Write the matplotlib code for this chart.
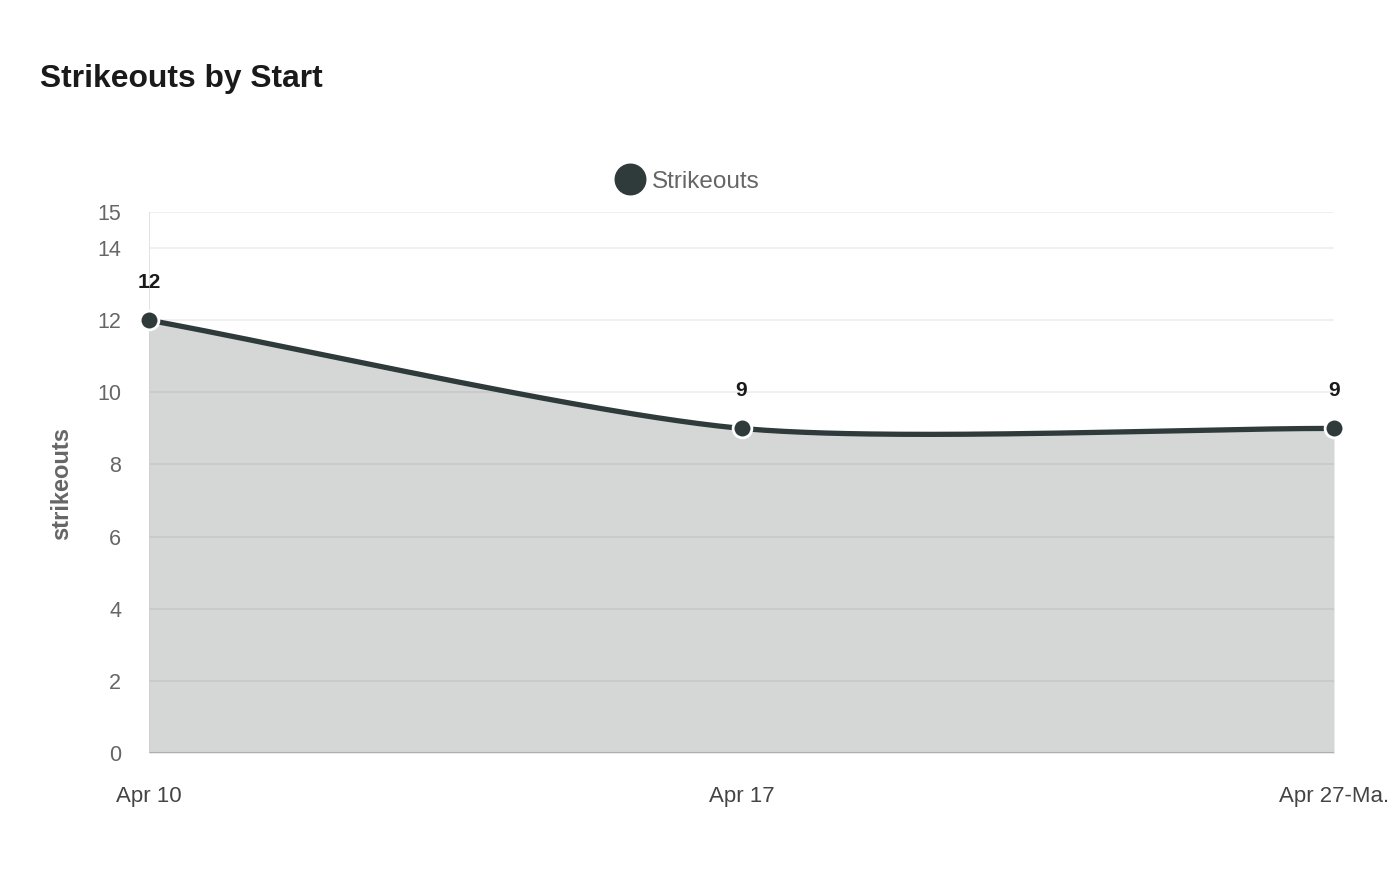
import numpy as np
import matplotlib
matplotlib.use("Agg")
import matplotlib.pyplot as plt
from matplotlib.lines import Line2D

plt.rcParams['font.family'] = ['Liberation Sans', 'DejaVu Sans']

categories = ["Apr 10", "Apr 17", "Apr 27-Ma."]
strikeouts = [12, 9, 9]
y_ticks = [0, 2, 4, 6, 8, 10, 12, 14, 15]
series_name = "Strikeouts"
title = "Strikeouts by Start"
y_label = "strikeouts"

LINE = "#2f3a3b"
W, H = 1400, 880
fig = plt.figure(figsize=(W / 100, H / 100), dpi=100)
ax = fig.add_axes([149 / W, 1 - 753 / H, (1334 - 149) / W, (753 - 212) / H])

x = np.arange(len(categories))
ax.set_xlim(0, len(categories) - 1)
ax.set_ylim(0, 15)

# smooth curve (ECharts-like bezier), computed in display space
fig.canvas.draw()
pts = ax.transData.transform(np.column_stack([x, strikeouts]))
smooth = 0.25
n = len(pts)
cps = []
for i in range(n):
    p = pts[i]
    prev = pts[i - 1] if i > 0 else p
    nxt = pts[i + 1] if i < n - 1 else p
    v = nxt - prev
    d0 = np.hypot(*(p - prev))
    d1 = np.hypot(*(nxt - p))
    s = d0 + d1
    r0, r1 = (d0 / s, d1 / s) if s else (0, 0)
    cps.append((p - v * smooth * r0, p + v * smooth * r1))
curve = []
t = np.linspace(0, 1, 80)[:, None]
for i in range(n - 1):
    P0, P3 = pts[i], pts[i + 1]
    C1, C2 = cps[i][1], cps[i + 1][0]
    seg = (1 - t) ** 3 * P0 + 3 * (1 - t) ** 2 * t * C1 + 3 * (1 - t) * t ** 2 * C2 + t ** 3 * P3
    curve.append(seg if i == 0 else seg[1:])
curve = np.vstack(curve)
cdata = ax.transData.inverted().transform(curve)

# grid
for yt in y_ticks:
    ax.axhline(yt, color="#eeeeee", lw=1.2, zorder=0)
ax.axhline(0, color="#cccccc", lw=1.5, zorder=1)
ax.axvline(0, color="#dddddd", lw=1.2, zorder=0)

ax.fill_between(cdata[:, 0], 0, cdata[:, 1], color=LINE, alpha=0.2, lw=0, zorder=2)
ax.plot(cdata[:, 0], cdata[:, 1], color=LINE, lw=3.8, zorder=3, solid_capstyle="round")
ax.plot(x, strikeouts, 'o', color=LINE, markersize=13.5, markeredgecolor="white",
        markeredgewidth=2, zorder=4, clip_on=False)

for xi, yi in zip(x, strikeouts):
    ax.annotate(str(yi), (xi, yi), xytext=(0, 27), textcoords="offset points",
                ha="center", va="center", fontsize=15, fontweight="bold", color="#1a1a1a")

for s in ax.spines.values():
    s.set_visible(False)
ax.set_yticks(y_ticks)
ax.set_yticklabels([str(v) for v in y_ticks], fontsize=15.5, color="#666666")
ax.set_xticks(x)
ax.set_xticklabels(categories, fontsize=16, color="#444444")
ax.tick_params(axis="both", length=0)
ax.tick_params(axis="y", pad=20)
ax.tick_params(axis="x", pad=24)
ax.patch.set_alpha(0)

fig.text(62 / W, 1 - 483 / H, y_label, rotation=90, ha="center", va="center",
         fontsize=17, fontweight="bold", color="#666666")
fig.text(40 / W, 1 - 79 / H, title, ha="left", va="center", fontsize=22.9,
         fontweight="bold", color="#1a1a1a")

handle = Line2D([], [], marker='o', linestyle='none', color=LINE, markersize=22)
fig.legend([handle], [series_name], loc="center", bbox_to_anchor=(688 / W, 1 - 181.5 / H),
           frameon=False, fontsize=17.5, labelcolor="#666666", handletextpad=0.3,
           handlelength=1.2)

fig.savefig("out.png", dpi=100)
